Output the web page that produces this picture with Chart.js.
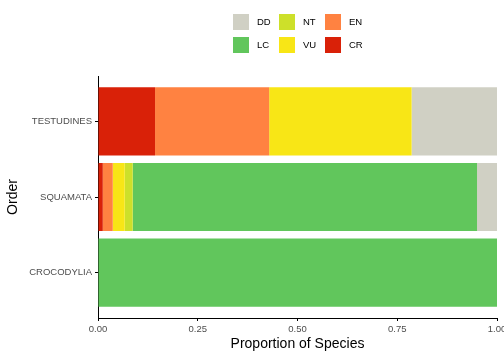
<!DOCTYPE html>
<html>
<head>
<meta charset="utf-8">
<script src="https://cdn.jsdelivr.net/npm/chart.js@4.4.1/dist/chart.umd.min.js"></script>
<style>
  html, body { margin: 0; padding: 0; background: #fff; }
  #wrap { position: relative; width: 504px; height: 360px; overflow: hidden; }
  #legend { position: absolute; left: 0; top: 0; font-family: "Liberation Sans", Arial, sans-serif; font-size: 9.5px; color: #000; }
  .key { position: absolute; width: 16px; height: 16px; }
  .lab { position: absolute; line-height: 16px; white-space: nowrap; }
</style>
</head>
<body>
<div id="wrap">
  <canvas id="myChart" width="504" height="360"></canvas>
  <div id="legend"></div>
</div>
<script>
// dati
const categories = ["TESTUDINES", "SQUAMATA", "CROCODYLIA"];
const statuses = ["CR", "EN", "VU", "NT", "LC", "DD"];
const valCR = [0.143, 0.012, 0];
const valEN = [0.286, 0.025, 0];
const valVU = [0.357, 0.030, 0];
const valNT = [0, 0.020, 0];
const valLC = [0, 0.863, 1.0];
const valDD = [0.214, 0.050, 0];
const xTicks = [0, 0.25, 0.5, 0.75, 1];
const legendOrder = ["DD", "LC", "NT", "VU", "EN", "CR"];

const colori = {
  CR: "#d92108",
  EN: "#ff8241",
  VU: "#f8e616",
  NT: "#cde02a",
  LC: "#61c65c",
  DD: "#d0d0c4",
};

const valori = { CR: valCR, EN: valEN, VU: valVU, NT: valNT, LC: valLC, DD: valDD };
const fontFam = '"Liberation Sans", Arial, sans-serif';

function grafico() {
  var ctx = document.getElementById("myChart");
  var datasets = statuses.map(function (s) {
    return {
      label: s,
      data: valori[s].map(function (v, i) { return { x: v, y: i + 1 }; }),
      backgroundColor: colori[s],
      borderWidth: 0,
      categoryPercentage: 1,
      barPercentage: 0.9,
    };
  });

  new Chart(ctx, {
    type: "bar",
    data: { datasets: datasets },
    options: {
      indexAxis: "y",
      responsive: false,
      animation: false,
      devicePixelRatio: 1,
      layout: { padding: { top: 76, right: 7, bottom: 0, left: 0 } },
      plugins: {
        legend: { display: false },
        tooltip: { enabled: false },
      },
      scales: {
        x: {
          type: "linear",
          position: "bottom",
          stacked: true,
          min: 0,
          max: 1,
          afterBuildTicks: function (s) {
            s.ticks = xTicks.map(function (v) { return { value: v }; });
          },
          afterFit: function (s) {
            s.height = 42;
            s.paddingLeft = 0;
            s.paddingRight = 0;
          },
          ticks: {
            callback: function (v) { return Number(v).toFixed(2); },
            color: "#4d4d4d",
            font: { family: fontFam, size: 9.5 },
            padding: 3,
            maxRotation: 0,
            autoSkip: false,
          },
          grid: { drawOnChartArea: false, drawTicks: true, tickLength: 3, color: "#000" },
          border: { display: true, color: "#000", width: 1 },
          title: {
            display: true,
            text: "Proportion of Species",
            color: "#000",
            font: { family: fontFam, size: 14 },
            padding: { top: 0, bottom: 7 },
          },
        },
        y: {
          type: "linear",
          position: "left",
          stacked: true,
          reverse: true,
          offset: false,
          min: 0.4,
          max: 3.6,
          afterBuildTicks: function (s) {
            s.ticks = categories.map(function (c, i) { return { value: i + 1 }; });
          },
          afterFit: function (s) {
            s.width = 98;
            s.paddingTop = 0;
            s.paddingBottom = 0;
          },
          ticks: {
            callback: function (v) { return categories[v - 1]; },
            color: "#4d4d4d",
            font: { family: fontFam, size: 9.5 },
            padding: 3,
            autoSkip: false,
          },
          grid: { offset: false, drawOnChartArea: false, drawTicks: true, tickLength: 3, color: "#000" },
          border: { display: true, color: "#000", width: 1 },
          title: {
            display: true,
            text: "Order",
            color: "#000",
            font: { family: fontFam, size: 14 },
            padding: { top: 5, bottom: 0 },
          },
        },
      },
    },
  });

  /*********************legenda***********************/
  const legend = document.getElementById("legend");
  legendOrder.forEach(function (s, i) {
    const col = Math.floor(i / 2);
    const row = i % 2;
    const left = 233 + col * 46;
    const top = 14 + row * 23;
    const key = document.createElement("div");
    key.className = "key";
    key.style.left = left + "px";
    key.style.top = top + "px";
    key.style.background = colori[s];
    const lab = document.createElement("div");
    lab.className = "lab";
    lab.style.left = left + 24 + "px";
    lab.style.top = top + "px";
    lab.textContent = s;
    legend.append(key, lab);
  });
}

grafico();
</script>
</body>
</html>
